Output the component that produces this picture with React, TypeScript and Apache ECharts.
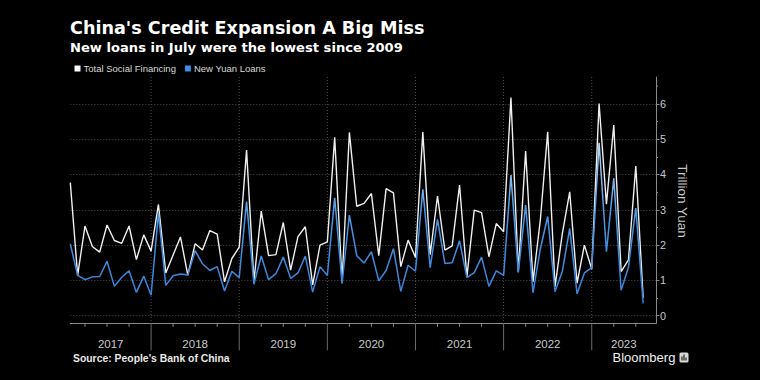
import React, { useEffect, useRef } from "react";
import * as echarts from "echarts";

// Monthly data, Jan 2017 .. Jul 2023 (trillion yuan)
const years = ["2017", "2018", "2019", "2020", "2021", "2022", "2023"];

const tsf = [
  3.77, 1.14, 2.54, 1.96, 1.8, 2.57, 2.13, 2.05, 2.54, 1.59, 2.29, 1.83,
  3.15, 1.21, 1.72, 2.23, 1.15, 2.04, 1.86, 2.41, 2.31, 0.96, 1.62, 1.94,
  4.69, 0.97, 2.96, 1.7, 1.73, 2.64, 1.29, 2.24, 2.52, 0.87, 2.0, 2.09,
  5.05, 0.96, 5.19, 3.1, 3.18, 3.46, 1.7, 3.6, 3.48, 1.39, 2.14, 1.65,
  5.2, 1.73, 3.39, 1.86, 1.98, 3.7, 1.1, 2.99, 2.92, 1.67, 2.61, 2.38,
  6.18, 1.23, 4.66, 0.96, 2.71, 5.21, 0.82, 2.33, 3.51, 0.92, 2.0, 1.32,
  6.01, 3.16, 5.4, 1.25, 1.58, 4.24, 0.51,
];

const loans = [
  2.03, 1.14, 1.02, 1.1, 1.11, 1.54, 0.83, 1.09, 1.27, 0.66, 1.12, 0.58,
  2.9, 0.86, 1.13, 1.18, 1.15, 1.84, 1.47, 1.28, 1.39, 0.7, 1.26, 1.08,
  3.23, 0.89, 1.69, 1.02, 1.19, 1.66, 1.06, 1.21, 1.69, 0.67, 1.39, 1.14,
  3.34, 0.91, 2.85, 1.7, 1.49, 1.81, 0.99, 1.28, 1.9, 0.69, 1.43, 1.26,
  3.58, 1.36, 2.73, 1.48, 1.5, 2.12, 1.08, 1.22, 1.66, 0.83, 1.27, 1.14,
  3.98, 1.23, 3.13, 0.65, 1.89, 2.81, 0.68, 1.26, 2.47, 0.62, 1.21, 1.36,
  4.9, 1.81, 3.89, 0.72, 1.37, 3.05, 0.35,
];

const yLabels = [0, 1, 2, 3, 4, 5, 6];

const X_MAX = 79.75;
const Y_MIN = -0.215;
const Y_MAX = 6.76;

export default function App() {
  const ref = useRef<HTMLDivElement>(null);

  useEffect(() => {
    document.body.style.margin = "0";
    document.body.style.background = "#000";
    const chart = echarts.init(ref.current as HTMLDivElement, undefined, {
      renderer: "svg",
      width: 760,
      height: 380,
    });

    const quarterTicks: number[] = [];
    for (let i = 2; i < tsf.length; i += 3) quarterTicks.push(i);

    const yearCenters = years.map((_, k) => {
      const start = k === 0 ? 0 : 12 * k - 1;
      const end = k === years.length - 1 ? X_MAX : 12 * k + 11;
      return (start + end) / 2;
    });

    const axisGray = "#8a8a8a";

    const option: any = {
      animation: false,
      backgroundColor: "#000",
      legend: {
        data: [
          { name: "Total Social Financing", itemStyle: { color: "#ffffff" } },
          { name: "New Yuan Loans", itemStyle: { color: "#3a8ee6" } },
        ],
        icon: "rect",
        itemWidth: 6,
        itemHeight: 6,
        itemGap: 9,
        padding: 0,
        left: 74.5,
        top: 63.5,
        textStyle: {
          color: "#d8d8d8",
          fontSize: 9.5,
          fontFamily: "Liberation Sans",
          padding: [0, 0, 0, -2],
        },
      },
      grid: [
        { left: 70.3, right: 104, top: 77, bottom: 56.7 },
        { left: 70.3, right: 104, top: 103.8, bottom: 64.3 },
      ],
      xAxis: [
        {
          gridIndex: 0,
          type: "value",
          min: 0,
          max: X_MAX,
          axisLine: { show: true, onZero: false, lineStyle: { color: axisGray, width: 1 } },
          axisTick: { show: false },
          axisLabel: { show: false },
          splitLine: { show: false },
        },
        { gridIndex: 1, type: "value", min: 0, max: X_MAX, show: false },
      ],
      yAxis: [
        {
          gridIndex: 0,
          type: "value",
          position: "right",
          min: Y_MIN,
          max: Y_MAX,
          axisLine: { show: true, onZero: false, lineStyle: { color: axisGray, width: 1 } },
          axisTick: { show: false },
          axisLabel: { show: false },
          splitLine: { show: false },
        },
        {
          gridIndex: 1,
          type: "value",
          position: "right",
          min: yLabels[0],
          max: yLabels[yLabels.length - 1],
          interval: 1,
          axisLine: { show: false, onZero: false },
          axisTick: { show: true, length: 3.5, lineStyle: { color: axisGray } },
          minorTick: { show: true, splitNumber: 2, length: 2, lineStyle: { color: axisGray } },
          axisLabel: {
            color: "#c8c8c8",
            fontSize: 10.8,
            fontFamily: "Liberation Sans",
            margin: 4,
          },
          splitLine: { show: true, lineStyle: { color: "#4e4e4e", type: [1, 2], width: 1 } },
        },
      ],
      graphic: [
        {
          type: "text",
          x: 70,
          y: 28.3,
          style: {
            text: "China's Credit Expansion A Big Miss",
            fill: "#ffffff",
            fontSize: 17.6,
            fontWeight: "bold",
            fontFamily: "DejaVu Sans",
            verticalAlign: "middle",
          },
        },
        {
          type: "text",
          x: 70,
          y: 47,
          style: {
            text: "New loans in July were the lowest since 2009",
            fill: "#ffffff",
            fontSize: 13.1,
            fontWeight: "bold",
            fontFamily: "DejaVu Sans",
            verticalAlign: "middle",
          },
        },
        {
          type: "text",
          x: 682.5,
          y: 201,
          rotation: -Math.PI / 2,
          style: {
            text: "Trillion Yuan",
            fill: "#c8c8c8",
            fontSize: 13.5,
            fontFamily: "Liberation Sans",
            align: "center",
            verticalAlign: "middle",
          },
        },
        {
          type: "text",
          x: 73,
          y: 358.3,
          style: {
            text: "Source: People's Bank of China",
            fill: "#e8e8e8",
            fontSize: 10.4,
            fontWeight: "bold",
            fontFamily: "Liberation Sans",
            verticalAlign: "middle",
          },
        },
        {
          type: "text",
          x: 612.5,
          y: 357.8,
          style: {
            text: "Bloomberg",
            fill: "#f0f0f0",
            fontSize: 13,
            fontFamily: "Liberation Sans",
            verticalAlign: "middle",
          },
        },
        {
          type: "group",
          x: 679.5,
          y: 352.5,
          children: [
            { type: "rect", shape: { x: 0, y: 0, width: 9, height: 10, r: 1.5 }, style: { fill: "#d8d8d8" } },
            { type: "rect", shape: { x: 2, y: 4, width: 1, height: 4 }, style: { fill: "#000" } },
            { type: "rect", shape: { x: 4, y: 2, width: 1, height: 6 }, style: { fill: "#000" } },
            { type: "rect", shape: { x: 6, y: 5, width: 1, height: 3 }, style: { fill: "#000" } },
          ],
        },
      ],
      series: [
        {
          type: "custom",
          xAxisIndex: 0,
          yAxisIndex: 0,
          silent: true,
          z: 1,
          data: quarterTicks.map((i) => [i, 0]),
          renderItem: (params: any, api: any) => {
            const x = api.value(0);
            const b = api.coord([x, Y_MIN]);
            const t = api.coord([x, Y_MAX]);
            const major = x % 12 === 11;
            if (!major) {
              return {
                type: "line",
                shape: { x1: b[0], y1: b[1], x2: b[0], y2: b[1] + 3.5 },
                style: { stroke: axisGray, lineWidth: 1 },
              };
            }
            return {
              type: "group",
              children: [
                {
                  type: "line",
                  shape: { x1: b[0], y1: t[1], x2: b[0], y2: b[1] },
                  style: { stroke: "#505050", lineWidth: 1, lineDash: [1, 2] },
                },
                {
                  type: "line",
                  shape: { x1: b[0], y1: b[1], x2: b[0], y2: b[1] + 27 },
                  style: { stroke: "#6a6a6a", lineWidth: 1 },
                },
              ],
            };
          },
        },
        {
          type: "custom",
          xAxisIndex: 0,
          yAxisIndex: 0,
          silent: true,
          z: 1,
          data: [[X_MAX, 6.5]],
          renderItem: (params: any, api: any) => {
            const p = api.coord([api.value(0), api.value(1)]);
            return {
              type: "line",
              shape: { x1: p[0], y1: p[1], x2: p[0] + 2, y2: p[1] },
              style: { stroke: axisGray, lineWidth: 1 },
            };
          },
        },
        {
          type: "custom",
          xAxisIndex: 0,
          yAxisIndex: 0,
          silent: true,
          z: 1,
          data: yearCenters.map((c) => [c, 0]),
          renderItem: (params: any, api: any) => {
            const p = api.coord([api.value(0), Y_MIN]);
            return {
              type: "text",
              x: p[0],
              y: p[1] + 20.2,
              style: {
                text: years[params.dataIndex],
                fill: "#c8c8c8",
                fontSize: 11.5,
                fontFamily: "Liberation Sans",
                align: "center",
                verticalAlign: "middle",
              },
            };
          },
        },
        {
          type: "line",
          name: "Total Social Financing",
          xAxisIndex: 0,
          yAxisIndex: 0,
          data: tsf.map((v, i) => [i, v]),
          showSymbol: false,
          symbol: "none",
          itemStyle: { color: "#ffffff" },
          lineStyle: { color: "#f0f0f0", width: 1.4 },
          z: 3,
        },
        {
          type: "line",
          name: "New Yuan Loans",
          xAxisIndex: 0,
          yAxisIndex: 0,
          data: loans.map((v, i) => [i, v]),
          showSymbol: false,
          symbol: "none",
          itemStyle: { color: "#3a8ee6" },
          lineStyle: {
            width: 1.5,
            color: new echarts.graphic.LinearGradient(0, 0, 0, 1, [
              { offset: 0, color: "#bcdcf8" },
              { offset: 0.45, color: "#4a98e6" },
              { offset: 1, color: "#3480d6" },
            ]),
          },
          z: 4,
        },
      ],
    };

    chart.setOption(option);
    return () => chart.dispose();
  }, []);

  return (
    <div
      ref={ref}
      style={{ position: "fixed", left: 0, top: 0, width: 760, height: 380, background: "#000" }}
    />
  );
}
